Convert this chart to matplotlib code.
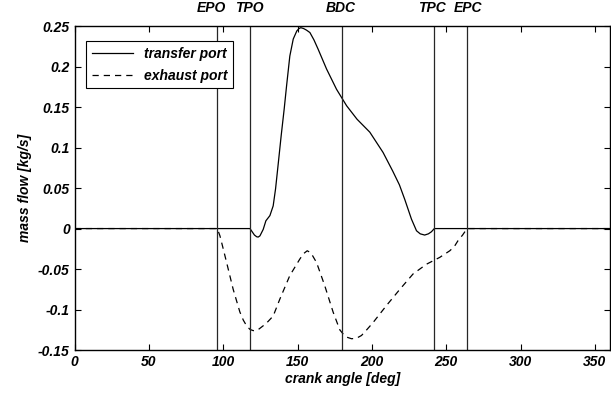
import matplotlib.pyplot as plt
from matplotlib.ticker import FormatStrFormatter

plt.rcParams['font.family'] = ['Liberation Sans', 'DejaVu Sans']
plt.rcParams['font.weight'] = 'bold'
plt.rcParams['font.style'] = 'italic'

# --- DATA ---
# transfer port mass flow (solid)
tp_angle = [0, 118, 119.5, 121, 122.5, 123.5, 124.7, 125.8, 126.9, 128.7, 131.4, 133.6,
            135.2, 137, 139, 141, 142.6, 144.8, 147.1, 149.5, 151, 152.2, 154, 156,
            158.3, 161, 163.8, 169.5, 176.2, 183, 190, 198.6, 207.5, 214, 218.5,
            222.1, 226.6, 230, 232.5, 235.5, 238, 240, 242, 360]
tp_flow = [0, 0, -0.004, -0.008, -0.0101, -0.0105, -0.009, -0.005, -0.001, 0.0096, 0.016,
           0.028, 0.049, 0.080, 0.115, 0.1475, 0.176, 0.213, 0.234, 0.244, 0.247, 0.248,
           0.247, 0.245, 0.242, 0.233, 0.2216, 0.197, 0.172, 0.1516, 0.135, 0.119,
           0.094, 0.071, 0.054, 0.036, 0.0117, -0.0027, -0.0065, -0.008, -0.0065,
           -0.004, 0, 0]

# exhaust port mass flow (dashed)
ep_angle = [0, 96, 97.8, 100, 102.3, 106.7, 111.2, 113.5, 115.7, 118, 120.2, 123,
            126.9, 130, 133.6, 138.1, 144.8, 151.5, 154, 156.5, 159, 162.8, 168.3,
            173.9, 178.4, 180.6, 183, 186.3, 189.5, 193, 196.5, 200.8, 209.8, 218.8,
            227.7, 236.7, 245.6, 252.4, 255.5, 257.9, 261, 264, 360]
ep_flow = [0, 0, -0.009, -0.025, -0.042, -0.075, -0.103, -0.113, -0.120, -0.1245, -0.126,
           -0.1255, -0.120, -0.115, -0.108, -0.087, -0.058, -0.0377, -0.031, -0.0274,
           -0.030, -0.042, -0.0706, -0.103, -0.125, -0.130, -0.134, -0.136, -0.1355,
           -0.132, -0.125, -0.116, -0.095, -0.075, -0.056, -0.044, -0.0356, -0.0274,
           -0.022, -0.015, -0.008, 0, 0]

# port events
event_names = ['EPO', 'TPO', 'BDC', 'TPC', 'EPC']
event_angles = [96, 118, 180, 242, 264]
label_pos = [92, 117.5, 179, 240.5, 264.5]

fig = plt.figure(figsize=(6.11, 4.01), dpi=100)
ax = fig.add_axes([0.122, 0.127, 0.876, 0.808])

ax.plot(tp_angle, tp_flow, color='black', lw=0.9, label='transfer port')
ax.plot(ep_angle, ep_flow, color='black', lw=0.9, dashes=(5, 4), label='exhaust port')

for a in event_angles:
    ax.axvline(a, color='0.15', lw=0.9)
for name, p in zip(event_names, label_pos):
    ax.text(p, 1.033, name, transform=ax.get_xaxis_transform(),
            ha='center', va='bottom', fontsize=10, fontweight='bold')

ax.set_xlim(0, 360)
ax.set_ylim(-0.15, 0.25)
ax.set_xticks(range(0, 360, 50))
ax.set_yticks([-0.15, -0.1, -0.05, 0, 0.05, 0.1, 0.15, 0.2, 0.25])
ax.yaxis.set_major_formatter(FormatStrFormatter('%g'))
ax.tick_params(direction='in', top=True, right=True, length=4.5, labelsize=10, width=0.8)
for s in ax.spines.values():
    s.set_linewidth(1.0)

ax.set_xlabel('crank angle [deg]', fontsize=10, fontweight='bold', labelpad=2)
ax.set_ylabel('mass flow [kg/s]', fontsize=10, fontweight='bold', labelpad=4)

leg = ax.legend(loc='upper left', bbox_to_anchor=(0.0215, 0.954), borderaxespad=0,
                fontsize=10, handlelength=3, fancybox=False, framealpha=1,
                edgecolor='black', borderpad=0.4, labelspacing=0.6)
leg.get_frame().set_linewidth(0.8)

fig.savefig('out.png', dpi=100)
